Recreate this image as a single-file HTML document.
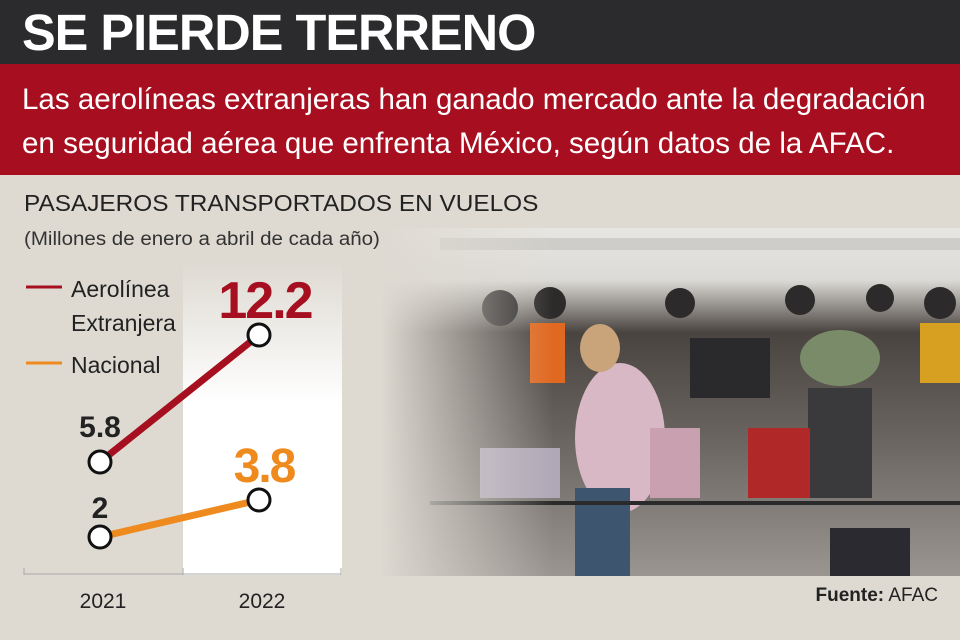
<!DOCTYPE html>
<html><head><meta charset="utf-8"><style>
*{margin:0;padding:0;box-sizing:border-box}
body{width:960px;height:640px;overflow:hidden;background:#dedad2;font-family:"Liberation Sans",sans-serif;position:relative}
.abs{position:absolute}
#hd{left:0;top:0;width:960px;height:64px;background:#2b2b2d}
#hd div{left:22px;top:3px;color:#fff;font-weight:bold;font-size:51px;letter-spacing:-1px;transform:scaleX(0.99);transform-origin:left;white-space:nowrap}
#rb{left:0;top:64px;width:960px;height:111px;background:#a70f20}
.sub{left:22px;color:#fff;font-size:30px;transform:scaleX(0.985);transform-origin:left;white-space:nowrap}
</style></head><body>
<div id="hd" class="abs"><div class="abs">SE PIERDE TERRENO</div></div>
<div id="rb" class="abs">
<div class="abs sub" style="top:19px">Las aerolíneas extranjeras han ganado mercado ante la degradación</div>
<div class="abs sub" style="top:63px">en seguridad aérea que enfrenta México, según datos de la AFAC.</div>
</div>
<div class="abs" style="left:24px;top:190px;font-size:23px;color:#222;transform:scaleX(1.06);transform-origin:left;white-space:nowrap">PASAJEROS TRANSPORTADOS EN VUELOS</div>
<div class="abs" style="left:24px;top:229px;font-size:19px;color:#333;transform:scaleX(1.08);transform-origin:left;white-space:nowrap">(Millones de enero a abril de cada año)</div>

<svg class="abs" style="left:380px;top:228px" width="580" height="348">
<defs>
<linearGradient id="fade" x1="0" x2="1"><stop offset="0" stop-color="#dedad2" stop-opacity="1"/><stop offset="0.15" stop-color="#dedad2" stop-opacity="0.5"/><stop offset="0.3" stop-color="#dedad2" stop-opacity="0"/></linearGradient>
<linearGradient id="bg" x1="0" y1="0" x2="0" y2="1"><stop offset="0" stop-color="#e8e6e2"/><stop offset="0.15" stop-color="#dcdad6"/><stop offset="0.3" stop-color="#4a4440"/><stop offset="0.6" stop-color="#6a6460"/><stop offset="1" stop-color="#9a9590"/></linearGradient>
</defs>
<rect width="580" height="348" fill="url(#bg)"/>
<rect x="60" y="10" width="520" height="12" fill="#cfcdc9"/>
<g fill="#2c2a2a"><circle cx="120" cy="80" r="18"/><circle cx="170" cy="75" r="16"/><circle cx="300" cy="75" r="15"/><circle cx="420" cy="72" r="15"/><circle cx="500" cy="70" r="14"/><circle cx="560" cy="75" r="16"/></g>
<ellipse cx="240" cy="210" rx="45" ry="75" fill="#d8b8c4"/>
<ellipse cx="220" cy="120" rx="20" ry="24" fill="#c9a47a"/>
<rect x="195" y="260" width="55" height="88" fill="#3e5570"/>
<ellipse cx="460" cy="130" rx="40" ry="28" fill="#7a8b6a"/>
<rect x="428" y="160" width="64" height="110" fill="#3a3a3c"/>
<rect x="368" y="200" width="62" height="70" fill="#b02828"/>
<rect x="270" y="200" width="50" height="70" fill="#c8a0b0"/>
<rect x="310" y="110" width="80" height="60" fill="#2a2a2c"/>
<rect x="540" y="95" width="40" height="60" fill="#d8a020"/>
<rect x="150" y="95" width="35" height="60" fill="#e06820"/>
<rect x="100" y="220" width="80" height="50" fill="#b0a8b8"/>
<rect x="450" y="300" width="80" height="48" fill="#2a2a30"/>
<line x1="50" y1="275" x2="580" y2="275" stroke="#2a2a2a" stroke-width="4"/>
<rect x="0" y="0" width="580" height="348" fill="url(#fade)"/>
</svg>

<svg class="abs" style="left:0;top:0" width="400" height="640">
<defs><linearGradient id="wp" x1="0" y1="0" x2="0" y2="1"><stop offset="0" stop-color="#dedad2"/><stop offset="0.45" stop-color="#ffffff"/></linearGradient></defs>
<rect x="183" y="262" width="159" height="313" fill="url(#wp)"/>
<line x1="24" y1="574" x2="341" y2="574" stroke="#aaa" stroke-width="1"/>
<line x1="24" y1="568" x2="24" y2="575" stroke="#aaa"/>
<line x1="183" y1="568" x2="183" y2="575" stroke="#aaa"/>
<line x1="341" y1="568" x2="341" y2="575" stroke="#aaa"/>
<line x1="26" y1="287" x2="62" y2="287" stroke="#a50f1f" stroke-width="3"/>
<line x1="26" y1="363" x2="62" y2="363" stroke="#ee8a1e" stroke-width="3"/>
<text x="71" y="297" font-size="23" fill="#222">Aerolínea</text>
<text x="71" y="331" font-size="23" fill="#222">Extranjera</text>
<text x="71" y="373" font-size="23" fill="#222">Nacional</text>
<line x1="100" y1="462" x2="259" y2="335" stroke="#a50f1f" stroke-width="7"/>
<line x1="100" y1="537" x2="259" y2="500" stroke="#ee8a1e" stroke-width="7"/>
<g fill="#fff" stroke="#111" stroke-width="3">
<circle cx="100" cy="462" r="11"/><circle cx="259" cy="335" r="11"/>
<circle cx="100" cy="537" r="11"/><circle cx="259" cy="500" r="11"/>
</g>
<text x="100" y="437" font-size="30" fill="#222" text-anchor="middle" font-weight="bold">5.8</text>
<text x="100" y="518" font-size="30" fill="#222" text-anchor="middle" font-weight="bold">2</text>
<text x="265" y="318" font-size="52" fill="#a50f1f" text-anchor="middle" font-weight="bold" letter-spacing="-2">12.2</text>
<text x="264" y="482" font-size="48" fill="#ee8a1e" text-anchor="middle" font-weight="bold" letter-spacing="-2">3.8</text>
<text x="103" y="608" font-size="21" fill="#222" text-anchor="middle">2021</text>
<text x="262" y="608" font-size="21" fill="#222" text-anchor="middle">2022</text>
</svg>
<div class="abs" style="right:22px;top:585px;font-size:19px;color:#222"><b>Fuente:</b> AFAC</div>
</body></html>
